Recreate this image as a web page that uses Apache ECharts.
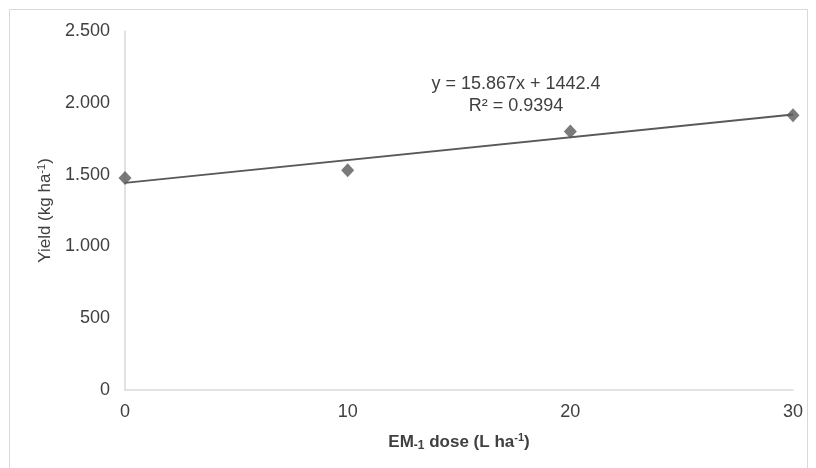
<!DOCTYPE html>
<html>
<head>
<meta charset="utf-8">
<script src="https://cdn.jsdelivr.net/npm/echarts@6/dist/echarts.min.js"></script>
<style>
  html, body { margin: 0; padding: 0; background: #ffffff; }
  #chart { width: 816px; height: 468px; }
</style>
</head>
<body>
<div id="chart"></div>
<script>
// dose (L/ha) and yield (kg/ha)
var doses = [0, 10, 20, 30];
var yields = [1476, 1530, 1800, 1914];
// linear trendline ends, from y = 15.867x + 1442.4
var trendX = [0, 30];
var trendY = [1442.4, 1918.4];
var xTicks = [0, 10, 20, 30];
var yTicks = [0, 500, 1000, 1500, 2000, 2500];

var chart = echarts.init(document.getElementById('chart'));
var font = 'Liberation Sans, Arial, sans-serif';
var txt = '#404040';

var option = {
  animation: false,
  backgroundColor: '#ffffff',
  grid: { left: 125, right: 23, top: 31, bottom: 78 },
  graphic: [
    {
      type: 'rect',
      shape: { x: 9.5, y: 9.5, width: 798, height: 470 },
      style: { fill: 'none', stroke: '#d9d9d9', lineWidth: 1 }
    },
    {
      type: 'text',
      style: {
        text: 'y = 15.867x + 1442.4\nR² = 0.9394',
        x: 516, y: 73, align: 'center',
        font: '18px ' + font, fill: txt, lineHeight: 22
      }
    }
  ],
  xAxis: {
    type: 'value',
    min: xTicks[0], max: xTicks[xTicks.length - 1], interval: 10,
    axisLine: { show: true, lineStyle: { color: '#d9d9d9', width: 1.5 } },
    axisTick: { show: false },
    splitLine: { show: false },
    axisLabel: { color: txt, fontSize: 18, fontFamily: font, margin: 13 },
    name: '{a|EM}{s|-1}{a| dose (L ha}{p|-1}{a|)}',
    nameLocation: 'middle',
    nameGap: 42,
    nameTextStyle: {
      rich: {
        a: { color: txt, fontSize: 17, fontWeight: 'bold', fontFamily: font },
        s: { color: txt, fontSize: 12, fontWeight: 'bold', fontFamily: font, padding: [8, 0, 0, 0] },
        p: { color: txt, fontSize: 11, fontWeight: 'bold', fontFamily: font, padding: [0, 0, 8, 0] }
      }
    }
  },
  yAxis: {
    type: 'value',
    min: yTicks[0], max: yTicks[yTicks.length - 1], interval: 500,
    axisLine: { show: true, lineStyle: { color: '#d9d9d9', width: 1.5 } },
    axisTick: { show: false },
    splitLine: { show: false },
    axisLabel: {
      color: txt, fontSize: 18, fontFamily: font, margin: 15,
      formatter: function (v) { return String(v).replace(/\B(?=(\d{3})+(?!\d))/g, '.'); }
    },
    name: '{a|Yield (kg ha}{p|-1}{a|)}',
    nameLocation: 'middle',
    nameGap: 70,
    nameTextStyle: {
      rich: {
        a: { color: txt, fontSize: 17, fontFamily: font },
        p: { color: txt, fontSize: 11, fontFamily: font, padding: [0, 0, 8, 0] }
      }
    }
  },
  series: [
    {
      type: 'line',
      data: trendX.map(function (x, i) { return [x, trendY[i]]; }),
      symbol: 'none',
      lineStyle: { color: '#595959', width: 2 },
      z: 2
    },
    {
      type: 'scatter',
      data: doses.map(function (x, i) { return [x, yields[i]]; }),
      symbol: 'diamond',
      symbolSize: [13, 14],
      itemStyle: { color: '#595959' },
      z: 3
    }
  ]
};
chart.setOption(option);
</script>
</body>
</html>
